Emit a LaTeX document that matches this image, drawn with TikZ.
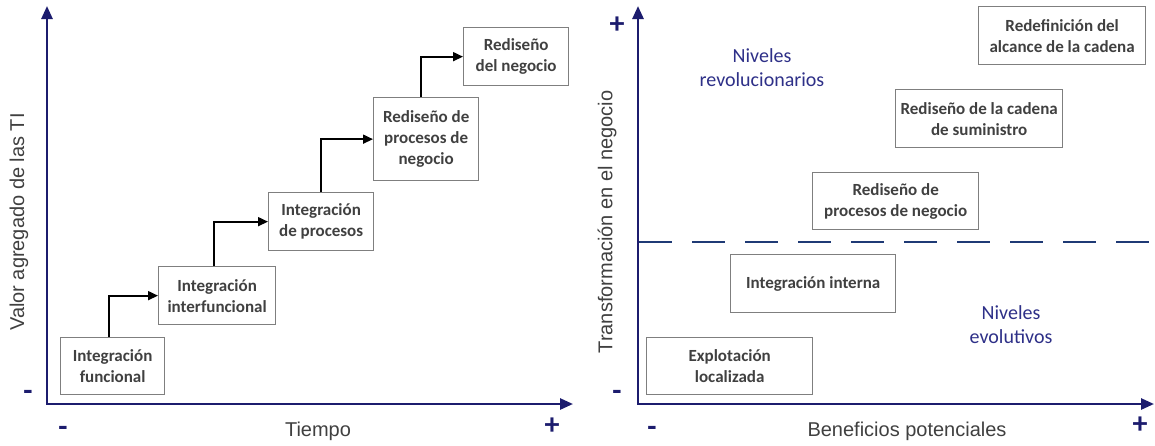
\documentclass[tikz,border=0pt]{standalone}
\usepackage{fontspec}
\setmainfont{Carlito}
\newfontfamily\arialf{Liberation Sans}
\usetikzlibrary{arrows.meta}
\definecolor{axisblue}{HTML}{1C1C6E}
\definecolor{txtgray}{HTML}{404040}
\definecolor{boxgray}{HTML}{7F7F7F}
\definecolor{lvlblue}{HTML}{2E3088}
\definecolor{dashblue}{HTML}{1F3A75}
\begin{document}
\begin{tikzpicture}[x=1pt,y=-1pt,
  stage/.style={draw=boxgray, line width=1.3pt, fill=white, text=txtgray,
    font=\fontsize{17}{21}\selectfont\bfseries, align=center, inner sep=0pt,
    anchor=north west},
  conn/.style={draw=black, line width=1.7pt, -{Triangle[length=10pt,width=9pt]}},
  axis/.style={draw=axisblue, line width=2.6pt, line join=miter,
    {Triangle[length=13pt,width=11pt]}-{Triangle[length=13pt,width=11pt]}},
  axlab/.style={text=txtgray, font=\arialf\fontsize{20}{24}\selectfont, inner sep=0pt},
  sign/.style={text=axisblue, font=\fontsize{30}{30}\selectfont\bfseries, inner sep=0pt, anchor=base},
  lvl/.style={text=lvlblue, font=\fontsize{20}{24}\selectfont, align=center, inner sep=0pt}
]
\useasboundingbox (0,0) rectangle (1155,445);
\fill[white] (0,0) rectangle (1155,445);

% ---------- left panel ----------
\coordinate (yL) at (47,6);
\coordinate (oL) at (47,404);
\coordinate (xL) at (573,404);
\draw[axis] (yL) -- (oL) -- (xL);

\node[axlab, rotate=90] (ylabL) at (19,222) {Valor agregado de las TI};
\node[axlab] (xlabL) at (318,431) {Tiempo};
\node[sign] (mL1) at (28,400) {-};
\node[sign] (mL2) at (63,436) {-};
\node[sign] (pL) at (552,434) {+};

\node[stage, minimum width=104pt, minimum height=57pt] (b1) at (60,337) {Integración\\funcional};
\node[stage, minimum width=117pt, minimum height=58pt] (b2) at (158,266) {Integración\\interfuncional};
\node[stage, minimum width=105pt, minimum height=58pt] (b3) at (268,192) {Integración\\de procesos};
\node[stage, minimum width=105pt, minimum height=83pt] (b4) at (373,97) {Rediseño de\\procesos de\\negocio};
\node[stage, minimum width=105pt, minimum height=58pt] (b5) at (463,27) {Rediseño\\del negocio};

\draw[conn] ([xshift=-4pt]b1.north) |- (b2.west);
\draw[conn] ([xshift=-3pt]b2.north) |- (b3.west);
\draw[conn] (b3.north) |- (b4.west);
\draw[conn] ([xshift=-5pt]b4.north) |- (b5.west);

% ---------- right panel ----------
\coordinate (yR) at (638,6);
\coordinate (oR) at (638,404);
\coordinate (xR) at (1154,404);
\draw[axis] (yR) -- (oR) -- (xR);

\coordinate (dashL) at (639,242);
\coordinate (dashR) at (1155,242);
\draw[dashblue, line width=2pt, dash pattern=on 33pt off 20pt] (dashL) -- (dashR);

\node[axlab, rotate=90] (ylabR) at (607,222) {Transformación en el negocio};
\node[axlab] (xlabR) at (907,431) {Beneficios potenciales};
\node[sign] (pR1) at (617,33) {+};
\node[sign] (mR1) at (617,400) {-};
\node[sign] (mR2) at (652,436) {-};
\node[sign] (pR2) at (1140,433) {+};

\node[lvl] (nrev) at (762,68) {Niveles\\revolucionarios};
\node[lvl] (nevo) at (1011,325) {Niveles\\evolutivos};

\node[stage, minimum width=167pt, minimum height=58pt] (r1) at (978,6) {Redefinición del\\alcance de la cadena};
\node[stage, minimum width=167pt, minimum height=58pt] (r2) at (895,89) {Rediseño de la cadena\\de suministro};
\node[stage, minimum width=166pt, minimum height=57pt] (r3) at (812,172) {Rediseño de\\procesos de negocio};
\node[stage, minimum width=165pt, minimum height=58pt] (r4) at (730,254) {Integración interna};
\node[stage, minimum width=166pt, minimum height=57pt] (r5) at (646,337) {Explotación\\localizada};
\end{tikzpicture}
\end{document}
